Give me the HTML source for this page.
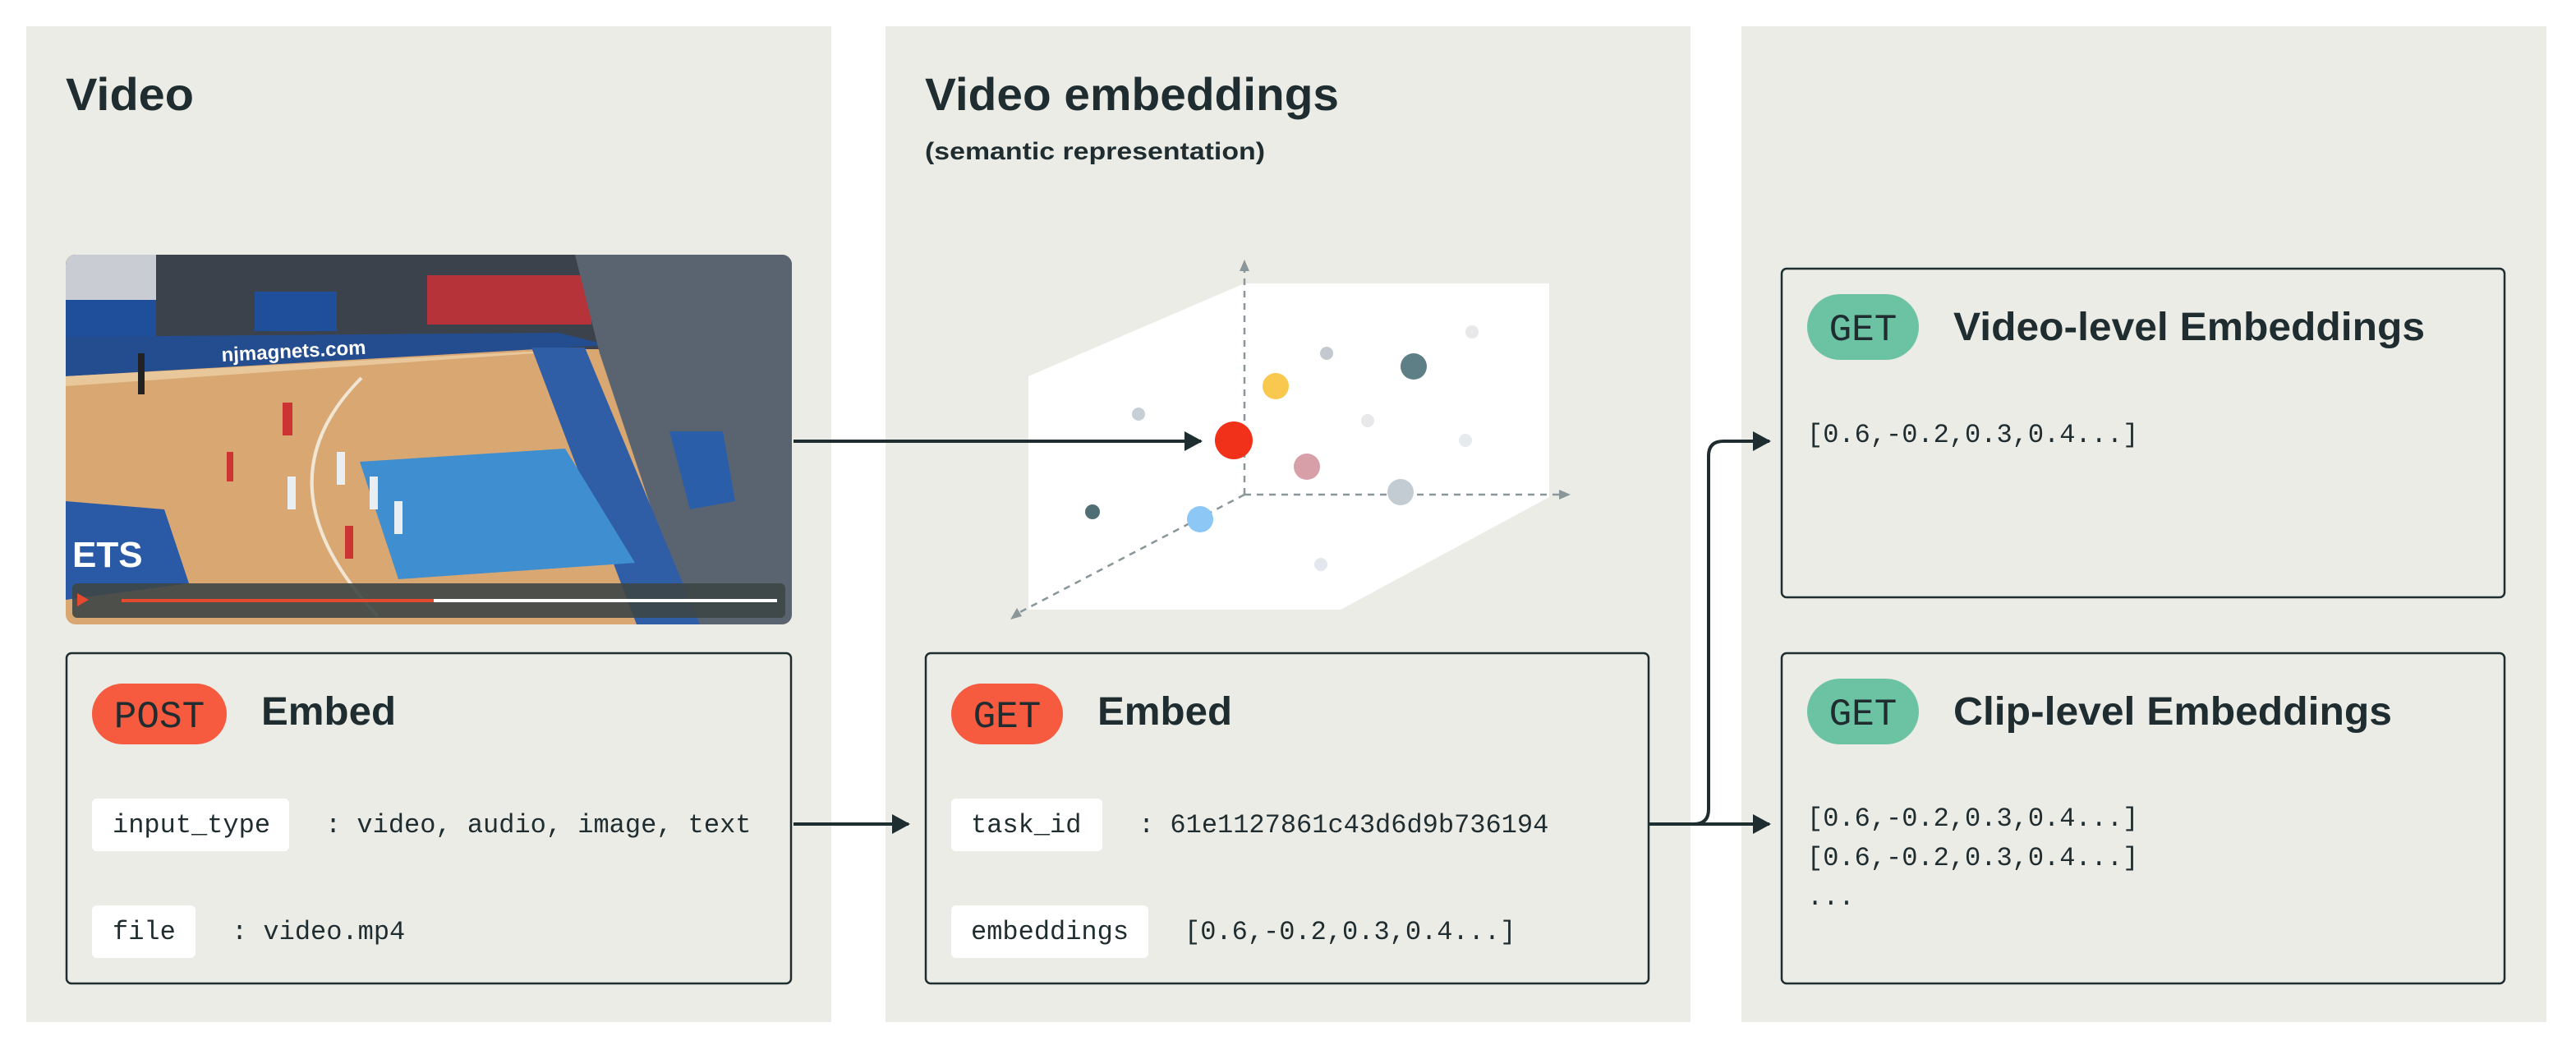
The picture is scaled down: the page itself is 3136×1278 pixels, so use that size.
<!DOCTYPE html>
<html><head><meta charset="utf-8"><style>
html,body{margin:0;padding:0;background:#fff;width:3136px;height:1278px;overflow:hidden}
svg{display:block}
.t{font-family:"Liberation Sans",sans-serif;font-weight:bold;fill:#1f2d30}
.m{font-family:"Liberation Mono",monospace;fill:#1f2d30}
</style></head><body>
<svg width="3136" height="1278" viewBox="0 0 3136 1278" xmlns="http://www.w3.org/2000/svg">
<defs>
<clipPath id="vc"><rect x="0" y="0" width="884" height="450" rx="12"/></clipPath>
<marker id="ah" markerWidth="22" markerHeight="24" refX="20" refY="12" orient="auto" markerUnits="userSpaceOnUse" viewBox="0 0 22 24"><path d="M0,0 L22,12 L0,24 z" fill="#1e2d30"/></marker>
</defs>
<rect width="3136" height="1278" fill="#fff"/>
<rect x="32" y="32" width="980" height="1212" fill="#ecece7"/>
<rect x="1078" y="32" width="980" height="1212" fill="#ecece7"/>
<rect x="2120" y="32" width="980" height="1212" fill="#ecece7"/>

<text class="t" x="80" y="134" font-size="56" textLength="156" lengthAdjust="spacingAndGlyphs">Video</text>
<text class="t" x="1126" y="134" font-size="56" textLength="504" lengthAdjust="spacingAndGlyphs">Video embeddings</text>
<text class="t" x="1126" y="194" font-size="30" textLength="414" lengthAdjust="spacingAndGlyphs">(semantic representation)</text>

<!-- video image -->
<g transform="translate(80,310)">
<g clip-path="url(#vc)">
<rect width="884" height="450" fill="#d9a772"/>
<rect width="884" height="115" fill="#3c424b"/>
<rect x="0" y="0" width="110" height="55" fill="#c9ccd2"/>
<rect x="440" y="25" width="200" height="60" fill="#b7333a"/>
<rect x="0" y="55" width="110" height="50" fill="#1f4f9a"/>
<rect x="230" y="45" width="100" height="48" fill="#1f4f9a"/>
<polygon points="0,100 600,95 660,110 0,148" fill="#234d8f"/>
<polygon points="0,148 560,118 600,118 0,160" fill="#e8c79b"/>
<polygon points="620,0 884,0 884,450 760,450 650,120" fill="#5a6470"/>
<polygon points="567,113 632,113 772,450 695,450" fill="#2f5ea6"/>
<polygon points="735,215 800,215 815,300 760,310" fill="#2b5ea8"/>
<polygon points="358,252 608,236 693,375 405,395" fill="#3f8fd0"/>
<path d="M360,150 Q230,280 380,440" fill="none" stroke="#f1e6d4" stroke-width="4"/>
<polygon points="0,300 120,310 150,400 0,420" fill="#2a5aa5"/>
<text x="8" y="380" font-family="Liberation Sans,sans-serif" font-weight="bold" font-size="44" fill="#fff">ETS</text>
<text x="190" y="130" font-family="Liberation Sans,sans-serif" font-weight="bold" font-size="24" fill="#fff" transform="rotate(-3 190 130)">njmagnets.com</text>
<rect x="196" y="240" width="8" height="36" fill="#c33"/>
<rect x="264" y="180" width="12" height="40" fill="#c33"/>
<rect x="330" y="240" width="10" height="40" fill="#e8eef2"/><rect x="370" y="270" width="10" height="40" fill="#e8eef2"/>
<rect x="400" y="300" width="10" height="40" fill="#e8eef2"/><rect x="270" y="270" width="10" height="40" fill="#e8eef2"/>
<rect x="340" y="330" width="10" height="40" fill="#c33"/><rect x="88" y="120" width="8" height="50" fill="#222"/>
<rect x="8" y="400" width="868" height="42" rx="6" fill="#3d4646" opacity="0.9"/>
<polygon points="14,412 28,420 14,428" fill="#e64a2e"/>
<rect x="68" y="419" width="380" height="4" fill="#e64a2e"/>
<rect x="448" y="419" width="418" height="4" fill="#fff"/>
</g></g>

<!-- cube -->
<polygon points="1252,458 1515,345 1886,345 1886,605 1632,742 1252,742" fill="#fff"/>
<g stroke="#8a979a" stroke-width="2.5" stroke-dasharray="8,7" fill="none">
<line x1="1515" y1="602" x2="1515" y2="330"/>
<line x1="1515" y1="602" x2="1898" y2="602"/>
<line x1="1515" y1="602" x2="1240" y2="746"/>
</g>
<polygon points="1509,330 1521,330 1515,316" fill="#8a979a"/>
<polygon points="1898,596 1898,608 1912,602" fill="#8a979a"/>
<polygon points="1238,740 1244,750 1230,754" fill="#8a979a"/>
<circle cx="1615" cy="430" r="8" fill="#c4c9cf"/>
<circle cx="1792" cy="404" r="8" fill="#e8e8ea"/>
<circle cx="1721" cy="446" r="16" fill="#5f7f87"/>
<circle cx="1553" cy="470" r="16" fill="#f9c84f"/>
<circle cx="1386" cy="504" r="8" fill="#c6cfd6"/>
<circle cx="1502" cy="536" r="23" fill="#f2311b"/>
<circle cx="1665" cy="512" r="8" fill="#e8e8ea"/>
<circle cx="1784" cy="536" r="8" fill="#e6ebee"/>
<circle cx="1591" cy="568" r="16" fill="#d7a0a8"/>
<circle cx="1705" cy="599" r="16" fill="#c4ccd3"/>
<circle cx="1330" cy="623" r="9" fill="#4f6f74"/>
<circle cx="1461" cy="632" r="16" fill="#8cc7f6"/>
<circle cx="1608" cy="687" r="8" fill="#e4e8ee"/>
<line x1="966" y1="537" x2="1462" y2="537" stroke="#1e2d30" stroke-width="4" marker-end="url(#ah)"/>

<!-- box1 -->
<rect x="81" y="795" width="882" height="402" rx="6" fill="none" stroke="#1e2d30" stroke-width="2.5"/>
<rect x="112" y="832" width="164" height="74" rx="37" fill="#f65a3f"/>
<text class="m" x="194" y="885" font-size="46" text-anchor="middle">POST</text>
<text class="t" x="318" y="882" font-size="48" textLength="164" lengthAdjust="spacingAndGlyphs">Embed</text>
<rect x="112" y="972" width="240" height="64" rx="6" fill="#fff"/>
<text class="m" x="137" y="1013" font-size="32">input_type</text>
<text class="m" x="396" y="1013" font-size="32">: video, audio, image, text</text>
<rect x="112" y="1102" width="126" height="64" rx="6" fill="#fff"/>
<text class="m" x="137" y="1143" font-size="32">file</text>
<text class="m" x="282" y="1143" font-size="32">: video.mp4</text>
<line x1="966" y1="1003" x2="1106" y2="1003" stroke="#1e2d30" stroke-width="4" marker-end="url(#ah)"/>

<!-- box2 -->
<rect x="1127" y="795" width="880" height="402" rx="6" fill="none" stroke="#1e2d30" stroke-width="2.5"/>
<rect x="1158" y="832" width="136" height="74" rx="37" fill="#f65a3f"/>
<text class="m" x="1226" y="885" font-size="46" text-anchor="middle">GET</text>
<text class="t" x="1336" y="882" font-size="48" textLength="164" lengthAdjust="spacingAndGlyphs">Embed</text>
<rect x="1158" y="972" width="184" height="64" rx="6" fill="#fff"/>
<text class="m" x="1182" y="1013" font-size="32">task_id</text>
<text class="m" x="1386" y="1013" font-size="32">: 61e1127861c43d6d9b736194</text>
<rect x="1158" y="1102" width="240" height="64" rx="6" fill="#fff"/>
<text class="m" x="1182" y="1143" font-size="32">embeddings</text>
<text class="m" x="1442" y="1143" font-size="32">[0.6,-0.2,0.3,0.4...]</text>

<!-- connectors -->
<path d="M2008,1003 L2154,1003" stroke="#1e2d30" stroke-width="4" fill="none" marker-end="url(#ah)"/>
<path d="M2062,1003 Q2080,1003 2080,985 L2080,555 Q2080,537 2098,537 L2154,537" stroke="#1e2d30" stroke-width="4" fill="none" marker-end="url(#ah)"/>

<!-- box3 -->
<rect x="2169" y="327" width="880" height="400" rx="6" fill="none" stroke="#1e2d30" stroke-width="2.5"/>
<rect x="2200" y="358" width="136" height="80" rx="40" fill="#6cc3a3"/>
<text class="m" x="2268" y="414" font-size="46" text-anchor="middle">GET</text>
<text class="t" x="2378" y="414" font-size="48" textLength="574" lengthAdjust="spacingAndGlyphs">Video-level Embeddings</text>
<text class="m" x="2200" y="538" font-size="32">[0.6,-0.2,0.3,0.4...]</text>

<!-- box4 -->
<rect x="2169" y="795" width="880" height="402" rx="6" fill="none" stroke="#1e2d30" stroke-width="2.5"/>
<rect x="2200" y="826" width="136" height="80" rx="40" fill="#6cc3a3"/>
<text class="m" x="2268" y="882" font-size="46" text-anchor="middle">GET</text>
<text class="t" x="2378" y="882" font-size="48" textLength="534" lengthAdjust="spacingAndGlyphs">Clip-level Embeddings</text>
<text class="m" x="2200" y="1005" font-size="32">[0.6,-0.2,0.3,0.4...]</text>
<text class="m" x="2200" y="1053" font-size="32">[0.6,-0.2,0.3,0.4...]</text>
<text class="m" x="2200" y="1101" font-size="32">...</text>
</svg>
</body></html>
